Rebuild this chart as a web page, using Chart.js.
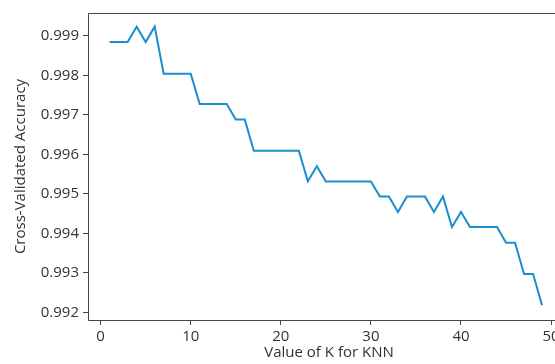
<!DOCTYPE html>
<html>
<head>
  <script src="https://cdn.jsdelivr.net/npm/chart.js"></script>
  <style>
    html, body { margin: 0; padding: 0; background: #fff; overflow: hidden; }
    #wrap { width: 555px; height: 364px; overflow: hidden; }
    canvas { display: block; }
  </style>
</head>
<body>
  <div id="wrap"><canvas id="knnChart" width="600" height="364" style="width:600px;height:364px"></canvas></div>

  <script>
    // K values and cross-validated accuracy
    const kValues = [
      1, 2, 3, 4, 5, 6, 7, 8, 9, 10,
      11, 12, 13, 14, 15, 16, 17, 18, 19, 20,
      21, 22, 23, 24, 25, 26, 27, 28, 29, 30,
      31, 32, 33, 34, 35, 36, 37, 38, 39, 40,
      41, 42, 43, 44, 45, 46, 47, 48, 49
    ];
    const accuracy = [
      0.99884, 0.99884, 0.99884, 0.99923, 0.99884, 0.99923, 0.99804, 0.99804, 0.99804, 0.99804,
      0.99727, 0.99727, 0.99727, 0.99727, 0.99688, 0.99688, 0.99609, 0.99609, 0.99609, 0.99609,
      0.99609, 0.99609, 0.99532, 0.99570, 0.99531, 0.99531, 0.99531, 0.99531, 0.99531, 0.99531,
      0.99493, 0.99493, 0.99454, 0.99493, 0.99493, 0.99493, 0.99454, 0.99493, 0.99416, 0.99454,
      0.99416, 0.99416, 0.99416, 0.99416, 0.99376, 0.99376, 0.99297, 0.99297, 0.99218
    ];
    const xTicks = [0, 10, 20, 30, 40, 50];
    const yTicks = [0.992, 0.993, 0.994, 0.995, 0.996, 0.997, 0.998, 0.999];
    const xLabel = 'Value of K for KNN';
    const yLabel = 'Cross-Validated Accuracy';

    const axisColor = '#444';
    const textColor = '#333';
    const tickFont = { family: 'Open Sans', size: 15 };

    // left, bottom and top spines; the right one is off the picture
    const spines = {
      id: 'spines',
      afterDraw(chart) {
        const a = chart.chartArea, c = chart.ctx;
        const l = Math.round(a.left) + 0.5, t = Math.round(a.top) + 0.5, b = Math.round(a.bottom) + 0.5;
        c.save();
        c.strokeStyle = axisColor;
        c.lineWidth = 1;
        c.beginPath();
        c.moveTo(a.right, t);
        c.lineTo(l, t);
        c.lineTo(l, b);
        c.lineTo(a.right, b);
        c.stroke();
        c.restore();
      }
    };

    const ctx = document.getElementById('knnChart').getContext('2d');
    new Chart(ctx, {
      type: 'line',
      data: {
        datasets: [{
          data: kValues.map((k, i) => ({ x: k, y: accuracy[i] })),
          borderColor: '#1a8ece',
          borderWidth: 2,
          pointRadius: 0,
          tension: 0,
          fill: false
        }]
      },
      options: {
        responsive: false,
        animation: false,
        layout: { padding: { left: 0, top: 10, right: 30, bottom: 0 } },
        plugins: { legend: { display: false }, tooltip: { enabled: false } },
        scales: {
          x: {
            type: 'linear',
            min: -1.4,
            max: 52.1,
            afterBuildTicks: s => { s.ticks = xTicks.map(v => ({ value: v })); },
            afterFit: s => { s.height = 44; },
            grid: { drawOnChartArea: false, drawTicks: true, tickLength: 5, tickColor: axisColor },
            border: { display: false },
            ticks: { font: tickFont, color: textColor, padding: 3, maxRotation: 0 },
            title: { display: true, text: xLabel, font: tickFont, color: textColor, padding: { top: 0, bottom: 2 } }
          },
          y: {
            min: 0.991808,
            max: 0.999575,
            afterBuildTicks: s => { s.ticks = yTicks.map(v => ({ value: v })); },
            afterFit: s => { s.width = 88; },
            grid: { drawOnChartArea: false, drawTicks: true, tickLength: 5, tickColor: axisColor },
            border: { display: false },
            ticks: { font: tickFont, color: textColor, padding: 4, callback: v => v.toFixed(3) },
            title: { display: true, text: yLabel, font: tickFont, color: textColor, padding: { top: 12, bottom: 0 } }
          }
        }
      },
      plugins: [spines]
    });
  </script>
</body>
</html>
